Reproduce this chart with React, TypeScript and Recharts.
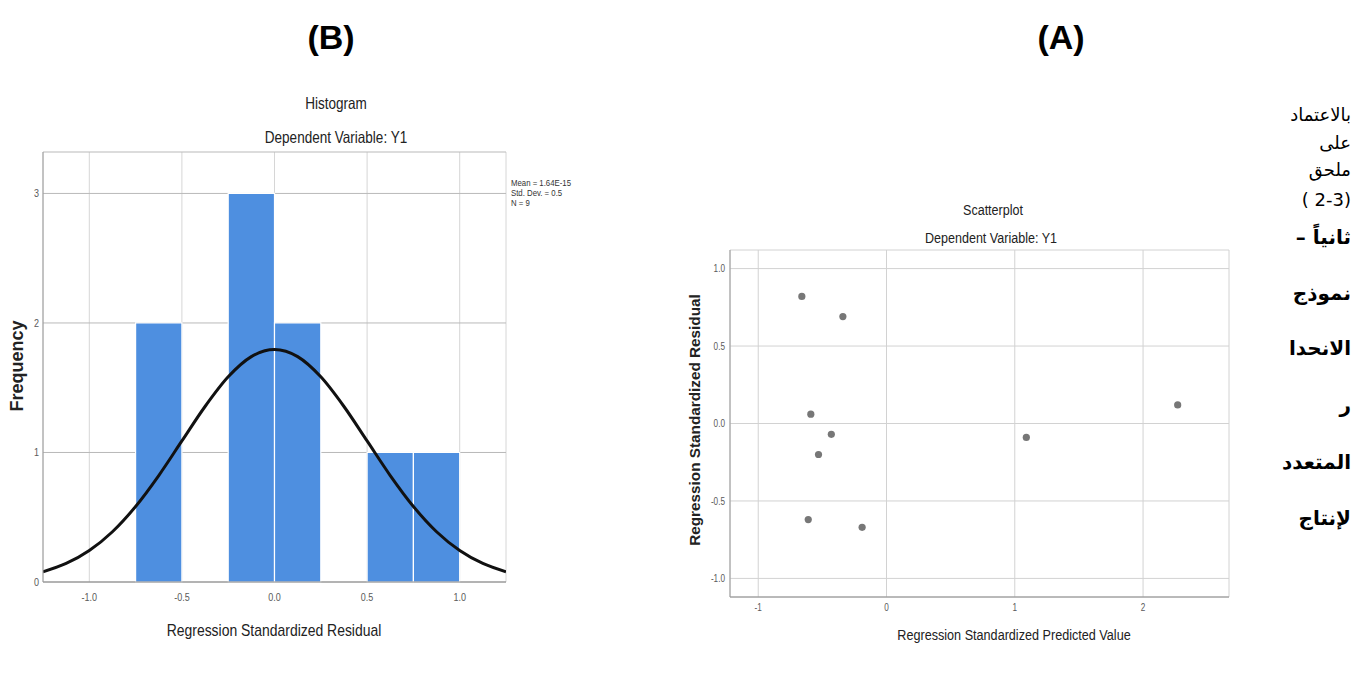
import {
  CartesianGrid,
  ComposedChart,
  Line,
  ReferenceArea,
  Scatter,
  ScatterChart,
  XAxis,
  YAxis,
} from 'recharts'

// histogram bins (bin width 0.25)
const binStart = [-0.75, -0.25, 0, 0.5, 0.75]
const binEnd = [-0.5, 0, 0.25, 0.75, 1.0]
const binCount = [2, 3, 2, 1, 1]

// normal curve
const curveX = [
  -1.25, -1.125, -1.0, -0.875, -0.75, -0.625, -0.5, -0.375, -0.25, -0.125, 0,
  0.125, 0.25, 0.375, 0.5, 0.625, 0.75, 0.875, 1.0, 1.125, 1.25,
]
const curveY = [
  0.079, 0.143, 0.243, 0.388, 0.583, 0.822, 1.089, 1.355, 1.584, 1.74, 1.795,
  1.74, 1.584, 1.355, 1.089, 0.822, 0.583, 0.388, 0.243, 0.143, 0.079,
]

const histXTicks = [-1, -0.5, 0, 0.5, 1]
const histYTicks = [0, 1, 2, 3]
const statLines = ['Mean = 1.64E-15', 'Std. Dev. = 0.5', 'N = 9']

// scatterplot
const predicted = [-0.66, -0.34, -0.59, -0.43, -0.53, -0.61, -0.19, 1.09, 2.27]
const residual = [0.82, 0.69, 0.06, -0.07, -0.2, -0.62, -0.67, -0.09, 0.12]
const scatXTicks = [-1, 0, 1, 2]
const scatYTicks = [-1, -0.5, 0, 0.5, 1]

const arabicLines = [
  { text: 'بالاعتماد', bold: false },
  { text: 'على', bold: false },
  { text: 'ملحق', bold: false },
  { text: '( 2-3)', bold: false },
  { text: 'ثانياً –', bold: true },
  { text: 'نموذج', bold: true },
  { text: 'الانحدا', bold: true },
  { text: 'ر', bold: true },
  { text: 'المتعدد', bold: true },
  { text: 'لإنتاج', bold: true },
]
const arabicY = [115, 143, 170, 200, 237, 293, 348, 405, 462, 518]

const arial = "'Liberation Sans', Arial, sans-serif"
const NARROW = 0.82

const curveData = curveX.map((x, i) => ({ x, y: curveY[i] }))
const scatterData = predicted.map((x, i) => ({ x, y: residual[i] }))

function Txt({
  x,
  y,
  size,
  children,
  bold,
  narrow = true,
  rotate,
  color = '#222',
}: {
  x: number
  y: number
  size: number
  children: React.ReactNode
  bold?: boolean
  narrow?: boolean
  rotate?: boolean
  color?: string
}) {
  return (
    <div
      style={{
        position: 'absolute',
        left: x,
        top: y,
        transform: `translate(-50%, -50%)${rotate ? ' rotate(-90deg)' : ''}${
          narrow ? ` scaleX(${NARROW})` : ''
        }`,
        fontFamily: arial,
        fontSize: size,
        fontWeight: bold ? 700 : 400,
        color,
        whiteSpace: 'nowrap',
        lineHeight: 1,
      }}
    >
      {children}
    </div>
  )
}

// condensed tick text (SPSS uses a narrow face)
function NarrowTick(p: any) {
  const { x, y, payload, textAnchor, size, dy, fmt } = p
  return (
    <text
      x={0}
      y={0}
      dy={dy}
      transform={`translate(${x},${y}) scale(${NARROW},1)`}
      textAnchor={textAnchor}
      fontSize={size}
      fontFamily={arial}
      fill="#5a5a5a"
    >
      {fmt ? fmt(payload.value) : payload.value}
    </text>
  )
}

const oneDec = (v: number) => v.toFixed(1)

function Histogram() {
  return (
    <div style={{ position: 'absolute', left: 0, top: 0 }}>
      <ComposedChart
        width={560}
        height={684}
        data={curveData}
        margin={{ top: 152, right: 54, left: 0, bottom: 72 }}
      >
        <CartesianGrid horizontal={false} vertical stroke="#d6d6d6" />
        <CartesianGrid horizontal vertical={false} stroke="#b9b9b9" />
        <XAxis
          type="number"
          dataKey="x"
          domain={[-1.25, 1.25]}
          ticks={histXTicks}
          allowDataOverflow
          height={30}
          tickLine={false}
          tickSize={0}
          tickMargin={11}
          axisLine={{ stroke: '#8a8a8a' }}
          tick={(p: any) => <NarrowTick {...p} size={11} dy="0.71em" fmt={oneDec} />}
        />
        <YAxis
          type="number"
          domain={[0, 3.32]}
          ticks={histYTicks}
          allowDataOverflow
          width={43}
          tickLine={false}
          tickSize={0}
          tickMargin={4}
          axisLine={{ stroke: '#9a9a9a' }}
          tick={(p: any) => <NarrowTick {...p} size={11} dy="0.355em" />}
        />
        {binCount.map((c, i) => (
          <ReferenceArea
            key={i}
            x1={binStart[i]}
            x2={binEnd[i]}
            y1={0}
            y2={c}
            fill="#4e8fe0"
            fillOpacity={1}
            stroke="#ffffff"
            strokeWidth={1.2}
          />
        ))}
        <Line
          type="monotone"
          dataKey="y"
          stroke="#111"
          strokeWidth={3}
          dot={false}
          isAnimationActive={false}
        />
      </ComposedChart>
    </div>
  )
}

function Scatterplot() {
  return (
    <div style={{ position: 'absolute', left: 680, top: 0 }}>
      <ScatterChart
        width={560}
        height={684}
        margin={{ top: 250, right: 11, left: 0, bottom: 57 }}
      >
        <CartesianGrid stroke="#d2d2d2" />
        <XAxis
          type="number"
          dataKey="x"
          domain={[-1.22, 2.67]}
          ticks={scatXTicks}
          allowDataOverflow
          height={30}
          tickLine={false}
          tickSize={0}
          tickMargin={7}
          axisLine={{ stroke: '#8a8a8a' }}
          tick={(p: any) => <NarrowTick {...p} size={10} dy="0.71em" />}
        />
        <YAxis
          type="number"
          dataKey="y"
          domain={[-1.12, 1.12]}
          ticks={scatYTicks}
          allowDataOverflow
          width={50}
          tickLine={false}
          tickSize={0}
          tickMargin={5}
          axisLine={{ stroke: '#9a9a9a' }}
          tick={(p: any) => <NarrowTick {...p} size={10} dy="0.355em" fmt={oneDec} />}
        />
        <Scatter
          data={scatterData}
          isAnimationActive={false}
          shape={(p: any) => <circle cx={p.cx} cy={p.cy} r={3.6} fill="#777" />}
        />
      </ScatterChart>
    </div>
  )
}

export default function App() {
  return (
    <div
      style={{
        position: 'absolute',
        left: 0,
        top: 0,
        width: 1356,
        height: 684,
        background: '#fff',
        overflow: 'hidden',
      }}
    >
      <Txt x={331} y={37} size={34} bold narrow={false} color="#000">
        (B)
      </Txt>
      <Txt x={1061} y={37} size={34} bold narrow={false} color="#000">
        (A)
      </Txt>

      <Histogram />
      <Txt x={336} y={103} size={16.5}>Histogram</Txt>
      <Txt x={336} y={137} size={16.5}>Dependent Variable: Y1</Txt>
      <Txt x={274} y={630} size={17}>Regression Standardized Residual</Txt>
      <Txt x={17} y={366} size={18} bold narrow={false} rotate>
        Frequency
      </Txt>
      {statLines.map((s, i) => (
        <div
          key={s}
          style={{
            position: 'absolute',
            left: 511,
            top: 183 + i * 10 - 5,
            fontFamily: arial,
            fontSize: 9.5,
            lineHeight: '10px',
            color: '#333',
            whiteSpace: 'nowrap',
            transform: `scaleX(${NARROW})`,
            transformOrigin: 'left center',
          }}
        >
          {s}
        </div>
      ))}

      <Scatterplot />
      <Txt x={993} y={210} size={15.3}>Scatterplot</Txt>
      <Txt x={991} y={238} size={15.3}>Dependent Variable: Y1</Txt>
      <Txt x={1014} y={635} size={15.4}>
        Regression Standardized Predicted Value
      </Txt>
      <Txt x={695} y={420} size={15.3} bold narrow={false} rotate>
        Regression Standardized Residual
      </Txt>

      {arabicLines.map((l, i) => (
        <div
          key={i}
          dir={l.text.startsWith('(') ? 'ltr' : 'rtl'}
          style={{
            position: 'absolute',
            right: 5,
            top: arabicY[i],
            transform: 'translateY(-50%)',
            fontFamily: "'DejaVu Sans', 'Noto Sans', sans-serif",
            fontSize: l.bold ? 20 : 18,
            fontWeight: l.bold ? 700 : 400,
            color: '#000',
            whiteSpace: 'nowrap',
            lineHeight: 1.2,
          }}
        >
          {l.text}
        </div>
      ))}
    </div>
  )
}
